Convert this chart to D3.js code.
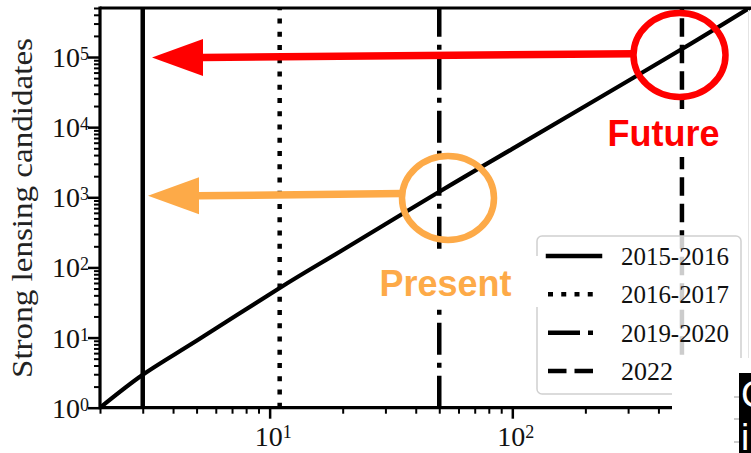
<!DOCTYPE html>
<html>
<head>
<meta charset="utf-8">
<script src="https://cdn.jsdelivr.net/npm/d3@7/dist/d3.min.js"></script>
<style>
  html, body { margin: 0; padding: 0; background: #fff; }
  svg { display: block; }
</style>
</head>
<body>
<svg id="chart" width="751" height="453"></svg>
<script>
// Cumulative number of strong-lensing candidates versus survey scale
const curveX = [2, 3, 5, 11, 20, 50, 100, 200, 500, 1000];
const curveY = [1, 2.95, 9.0, 51, 177, 1200, 4900, 20000, 130000, 560000];

// Survey epochs, each marked with a vertical line
const epochs = ["2015-2016", "2016-2017", "2019-2020", "2022"];
const epochX = [3, 11, 50, 500];

// Axis ticks
const xMajorTicks = [10, 100];
const xMajorExp = ["1", "2"];
const yMajorTicks = [1, 10, 100, 1000, 10000, 100000];
const yMajorExp = ["0", "1", "2", "3", "4", "5"];

// Callouts: level arrowed back to the axis, and the epoch it is read at
const calloutText = ["Future", "Present"];
const calloutLevel = [1e5, 1e3];
const calloutEpoch = [500, 50];

const pLeft = 100, pRight = 755, pTop = 8, pBottom = 407.7;
const svg = d3.select("#chart");

const x = d3.scaleLog().domain([2, 1000]).range([pLeft, pRight]);
const y = d3.scaleLog().domain([1, 5e5]).range([pBottom, pTop]);

const minorX = [];
[1, 10, 100].forEach(b => { for (let m = 2; m <= 9; m++) { const v = b * m; if (v >= 2 && v <= 1000 && v !== 10 && v !== 100) minorX.push(v); } });
const minorY = [];
[1, 10, 100, 1000, 10000, 100000].forEach(b => { for (let m = 2; m <= 9; m++) { const v = b * m; if (v <= 5e5) minorY.push(v); } });

// line styles (matplotlib-like, scaled with line width)
const lw = 5;
const dashes = [null, `${lw},${1.65 * lw}`, `${6.4 * lw},${1.6 * lw},${lw},${1.6 * lw}`, `${3.7 * lw},${1.6 * lw}`];

svg.append("defs").append("clipPath").attr("id", "plotClip")
  .append("rect").attr("x", pLeft).attr("y", pTop).attr("width", pRight - pLeft).attr("height", pBottom - pTop);

const plot = svg.append("g").attr("clip-path", "url(#plotClip)");

// model curve
const line = d3.line().x(d => x(d[0])).y(d => y(d[1])).curve(d3.curveNatural);
plot.append("path")
  .datum(curveX.map((v, i) => [v, curveY[i]]))
  .attr("d", line)
  .attr("fill", "none").attr("stroke", "#000").attr("stroke-width", 4.2);

// epoch lines, drawn bottom to top
plot.selectAll("path.epoch").data(epochX).join("path")
  .attr("class", "epoch")
  .attr("d", d => `M${x(d)},${pBottom}L${x(d)},${pTop}`)
  .attr("fill", "none").attr("stroke", "#000").attr("stroke-width", 4.5)
  .attr("stroke-dasharray", (d, i) => dashes[i]);

// axes
const axisStyle = g => {
  g.select(".domain").remove();
  g.selectAll(".tick line").attr("stroke", "#000");
};
svg.append("g").attr("transform", `translate(0,${pBottom})`)
  .call(d3.axisBottom(x).tickValues(minorX).tickSize(6).tickFormat(""))
  .call(axisStyle).selectAll(".tick line").attr("stroke-width", 2);
const xMaj = svg.append("g").attr("transform", `translate(0,${pBottom})`)
  .call(d3.axisBottom(x).tickValues(xMajorTicks).tickSize(11).tickFormat(""))
  .call(axisStyle);
xMaj.selectAll(".tick line").attr("stroke-width", 2.5);
xMaj.selectAll(".tick").each(function(d, i) {
  const t = d3.select(this).append("text")
    .attr("x", 3).attr("y", 38.5).attr("text-anchor", "middle")
    .attr("fill", "#111").attr("font-family", "'Liberation Serif', serif").attr("font-size", 28);
  t.append("tspan").text("10");
  t.append("tspan").attr("dy", -8).attr("font-size", 18).text(xMajorExp[i]);
});

svg.append("g").attr("transform", `translate(${pLeft},0)`)
  .call(d3.axisLeft(y).tickValues(minorY).tickSize(6).tickFormat(""))
  .call(axisStyle).selectAll(".tick line").attr("stroke-width", 2);
const yMaj = svg.append("g").attr("transform", `translate(${pLeft},0)`)
  .call(d3.axisLeft(y).tickValues(yMajorTicks).tickSize(12).tickFormat(""))
  .call(axisStyle);
yMaj.selectAll(".tick line").attr("stroke-width", 2.5);
yMaj.selectAll(".tick").each(function(d, i) {
  const t = d3.select(this).append("text")
    .attr("x", -11).attr("y", 9.5).attr("text-anchor", "end")
    .attr("fill", "#111").attr("font-family", "'Liberation Serif', serif").attr("font-size", 28);
  t.append("tspan").text("10");
  t.append("tspan").attr("dy", -7).attr("font-size", 18).text(yMajorExp[i]);
});

// spines
svg.append("path").attr("d", `M${pLeft},${pBottom}H${pRight}`).attr("stroke", "#000").attr("stroke-width", 3.2);
svg.append("path").attr("d", `M${pLeft},${pTop}H${pRight}`).attr("stroke", "#000").attr("stroke-width", 2.8);
svg.append("path").attr("d", `M${pLeft},${pTop - 1.4}V${pBottom + 1.6}`).attr("stroke", "#000").attr("stroke-width", 3.2);

// y-axis title
svg.append("text")
  .attr("transform", `translate(32,208) rotate(-90)`)
  .attr("text-anchor", "middle")
  .attr("font-family", "'Liberation Serif', serif").attr("font-size", 29)
  .attr("textLength", 340).attr("lengthAdjust", "spacingAndGlyphs")
  .attr("fill", "#222")
  .text("Strong lensing candidates");

// legend
const lg = svg.append("g");
lg.append("rect").attr("x", 537).attr("y", 236).attr("width", 204).attr("height", 158).attr("rx", 5)
  .attr("fill", "#fff").attr("fill-opacity", 0.8).attr("stroke", "#d0d0d0").attr("stroke-width", 1.5);
const rowY = d3.scalePoint().domain(epochs).range([256, 371]);
epochs.forEach((e, i) => {
  lg.append("path")
    .attr("d", i === 0 ? `M548,${rowY(e)}H600` : `M548,${rowY(e)}H601`)
    .attr("stroke", "#000").attr("stroke-width", 4.5)
    .attr("stroke-linecap", i === 0 ? "square" : "butt")
    .attr("stroke-dasharray", dashes[i]);
  lg.append("text").attr("x", 621).attr("y", rowY(e) + 9)
    .attr("font-family", "'Liberation Serif', serif").attr("font-size", 26).attr("fill", "#111")
    .attr("textLength", i === 3 ? null : 108).attr("lengthAdjust", "spacingAndGlyphs")
    .text(e);
});

// callouts
const colors = ["#ff0000", "#fdaa48"];
const ellipseC = [[679.5, 55], [448, 198]];
const labelBoxes = [[600, 109, 130, 48], [365, 256, 175, 51]];
const labelPos = [[663.5, 146], [445.5, 296]];
const arrowTip = [152, 148];
const tailY = [53.7, 193.5];
calloutText.forEach((txt, i) => {
  const [ecx, ecy] = ellipseC[i];
  // ellipse around the crossing of the curve and the epoch line
  svg.append("ellipse").attr("cx", ecx).attr("cy", ecy).attr("rx", 46).attr("ry", 42)
    .attr("fill", "none").attr("stroke", colors[i]).attr("stroke-width", 6.5);
  // arrow shaft and head back to the y axis
  const baseX = arrowTip[i] + 51;
  const headY = y(calloutLevel[i]) + (i === 0 ? 0.5 : -1.5);
  svg.append("path")
    .attr("d", `M${baseX - 1},${headY}L${ecx - 46},${tailY[i]}`)
    .attr("stroke", colors[i]).attr("stroke-width", 7.5).attr("fill", "none");
  svg.append("path")
    .attr("d", `M${arrowTip[i]},${headY}L${baseX},${headY - 18.5}L${baseX},${headY + 18.5}Z`)
    .attr("fill", colors[i]);
  // label with white backing
  const b = labelBoxes[i];
  svg.append("rect").attr("x", b[0]).attr("y", b[1]).attr("width", b[2]).attr("height", b[3]).attr("fill", "#fff");
  svg.append("text").attr("x", labelPos[i][0]).attr("y", labelPos[i][1])
    .attr("text-anchor", "middle")
    .attr("font-family", "'Liberation Sans', Arial, sans-serif").attr("font-weight", "bold")
    .attr("font-size", 36).attr("fill", colors[i]).text(txt);
});

// faint edge at right
svg.append("path").attr("d", "M748.5,10V358").attr("stroke", "#e4e4e4").attr("stroke-width", 1);

// panel overlapping the bottom-right corner
svg.append("rect").attr("x", 672).attr("y", 358).attr("width", 79).attr("height", 95).attr("fill", "#fff");
svg.append("rect").attr("x", 739).attr("y", 373).attr("width", 12).attr("height", 80).attr("fill", "#000");
[397, 419, 442].forEach(v => svg.append("path").attr("d", `M734,${v}H739`).attr("stroke", "#bbb").attr("stroke-width", 1.5));
svg.append("text").attr("x", 741).attr("y", 407).attr("font-family", "'Liberation Sans', sans-serif")
  .attr("font-size", 37).attr("fill", "#fff").text("C");
svg.append("text").attr("x", 741).attr("y", 450).attr("font-family", "'Liberation Sans', sans-serif")
  .attr("font-size", 37).attr("fill", "#fff").text("i");
</script>
</body>
</html>
